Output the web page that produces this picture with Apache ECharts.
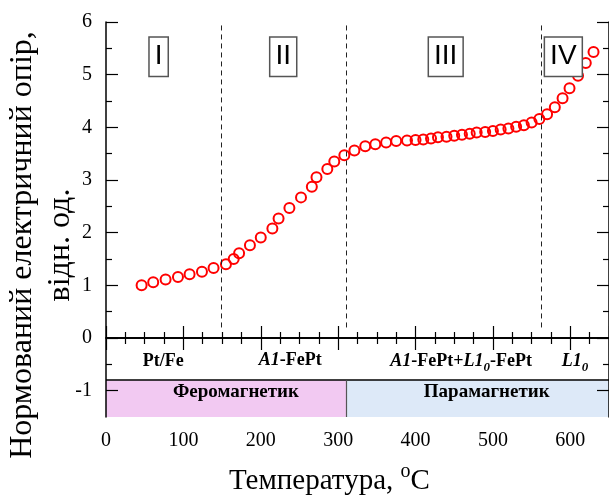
<!DOCTYPE html>
<html>
<head>
<meta charset="utf-8">
<script src="https://cdn.jsdelivr.net/npm/echarts@6/dist/echarts.min.js"></script>
<style>
  html, body { margin: 0; padding: 0; background: #fff; }
  #chart { width: 609px; height: 495px; }
</style>
</head>
<body>
<div id="chart"></div>
<script>
// measured curve, T in °C vs normalised resistance
const temperature = [46, 61, 77, 93, 108, 124, 139, 155, 165, 172, 186, 200, 215, 223, 237,
  252, 266, 272, 286, 295, 308, 321, 335, 348, 362, 375, 389, 400, 410, 420, 429, 440, 450,
  460, 470, 479, 490, 500, 510, 520, 530, 540, 550, 560, 570, 580, 590, 599, 610, 620, 630]
const resistance = [1.00, 1.06, 1.11, 1.16, 1.21, 1.26, 1.33, 1.40, 1.50, 1.61, 1.76, 1.91,
  2.08, 2.27, 2.47, 2.67, 2.87, 3.05, 3.21, 3.35, 3.47, 3.56, 3.64, 3.68, 3.71, 3.74, 3.75,
  3.76, 3.77, 3.79, 3.81, 3.82, 3.84, 3.86, 3.88, 3.90, 3.91, 3.93, 3.96, 3.98, 4.01, 4.04,
  4.09, 4.16, 4.25, 4.38, 4.55, 4.74, 4.98, 5.22, 5.43]

// stage borders and labels
const stageBounds = [149, 311, 562]
const stageNames = ['I', 'II', 'III', 'IV']
const stageLabelX = [68, 229, 439, 591]
const phaseNames = ['Pt/Fe', '{i|A1}{b|-FePt}', '{i|A1}{b|-FePt+}{i|L1}{sub|0}{b|-FePt}', '{i|L1}{sub|0}']
const phaseLabelX = [74, 238, 459, 606]
const magnetNames = ['Феромагнетик', 'Парамагнетик']
const magnetLabelX = [168, 492]
const curieT = 311

const yMajor = [-1, 0, 1, 2, 3, 4, 5, 6]
const yMinor = [-0.5, 0.5, 1.5, 2.5, 3.5, 4.5, 5.5]

const serif = '"Liberation Serif", "DejaVu Serif", serif'
const sans = '"Liberation Sans", Arial, sans-serif'
const X_MAX = 650

const chart = echarts.init(document.getElementById('chart'))

const xBase = {
  type: 'value',
  min: 0,
  max: X_MAX,
  interval: 100,
  z: 5,
  splitLine: { show: false },
  axisLine: { show: true, lineStyle: { color: '#000', width: 1.5 } },
  axisTick: { inside: true, length: 12, lineStyle: { color: '#000', width: 1.2 } },
  minorTick: { show: true, splitNumber: 4, length: 6, lineStyle: { color: '#000', width: 1.2 } }
}

function yAxisOf(position, ticks, len, withLabels, lineOn) {
  return {
    type: 'value',
    min: -1.5,
    max: 6,
    position: position,
    z: 5,
    splitLine: { show: false },
    axisLine: { show: lineOn, lineStyle: { color: '#000', width: 1.5 } },
    axisTick: { inside: true, length: len, customValues: ticks, lineStyle: { color: '#000', width: 1.2 } },
    axisLabel: withLabels
      ? { customValues: ticks, fontFamily: serif, fontSize: 20, color: '#000', margin: 14 }
      : { show: false }
  }
}

const phaseRich = {
  b: { fontFamily: serif, fontSize: 18, fontWeight: 'bold', color: '#000', verticalAlign: 'top', lineHeight: 20 },
  i: { fontFamily: serif, fontSize: 18, fontWeight: 'bold', fontStyle: 'italic', color: '#000', verticalAlign: 'top', lineHeight: 20 },
  sub: { fontFamily: serif, fontSize: 13, fontWeight: 'bold', fontStyle: 'italic', color: '#000', verticalAlign: 'bottom', lineHeight: 22 }
}

chart.setOption({
  backgroundColor: '#fff',
  animation: false,
  grid: { left: 106, right: -5, top: 22, bottom: 78 },
  xAxis: [
    Object.assign({}, xBase, {
      position: 'bottom',
      axisLabel: { fontFamily: serif, fontSize: 20, color: '#000', margin: 14, showMaxLabel: false }
    }),
    Object.assign({}, xBase, { position: 'top', axisLabel: { show: false } })
  ],
  yAxis: [
    yAxisOf('left', yMajor, 12, true, true),
    yAxisOf('left', yMinor, 6, false, false),
    yAxisOf('right', yMajor, 12, false, true),
    yAxisOf('right', yMinor, 6, false, false)
  ],
  graphic: [
    {
      type: 'text',
      left: 229,
      top: 462,
      style: {
        text: '{n|Температура, }{sup|o}{n|C}',
        rich: {
          n: { fontFamily: serif, fontSize: 29, color: '#000', verticalAlign: 'bottom', lineHeight: 34 },
          sup: { fontFamily: serif, fontSize: 20, color: '#000', verticalAlign: 'top', lineHeight: 34, padding: [0, 0, 12, 0] }
        }
      }
    },
    {
      type: 'text',
      x: 42,
      y: 245,
      rotation: Math.PI / 2,
      style: {
        text: 'Нормований електричний опір,\nвідн. од.',
        fontFamily: serif,
        fontSize: 32,
        lineHeight: 38,
        fill: '#000',
        align: 'center',
        verticalAlign: 'middle'
      }
    }
  ],
  series: [
    {
      name: 'bands',
      type: 'scatter',
      data: [],
      z: 1,
      silent: true,
      markArea: {
        silent: true,
        data: [
          [{ coord: [0, -1.5], itemStyle: { color: '#f2c9f2' } }, { coord: [curieT, -0.8] }],
          [{ coord: [curieT, -1.5], itemStyle: { color: '#dde9f8' } }, { coord: [X_MAX, -0.8] }]
        ]
      }
    },
    {
      name: 'guides',
      type: 'scatter',
      data: [],
      z: 2,
      silent: true,
      markLine: {
        silent: true,
        symbol: 'none',
        label: { show: false },
        lineStyle: { color: '#000', width: 1.5, type: 'solid' },
        data: [
          [{ coord: [0, 0] }, { coord: [X_MAX, 0] }],
          [{ coord: [0, -0.8] }, { coord: [X_MAX, -0.8] }],
          [{ coord: [curieT, -1.5], lineStyle: { color: '#555', width: 1.2 } }, { coord: [curieT, -0.8] }]
        ].concat(stageBounds.map(t => [
          { coord: [t, 0.2], lineStyle: { color: '#222', width: 1, type: [5, 4] } },
          { coord: [t, 6] }
        ]))
      }
    },
    {
      name: 'R',
      type: 'scatter',
      z: 3,
      symbol: 'circle',
      symbolSize: 10,
      itemStyle: { color: 'rgba(255,255,255,0)', borderColor: '#ff0000', borderWidth: 2, opacity: 1 },
      data: temperature.map((t, i) => [t, resistance[i]])
    },
    {
      name: 'labels',
      type: 'scatter',
      data: [],
      z: 4,
      silent: true,
      markPoint: {
        silent: true,
        symbol: 'rect',
        symbolSize: 0,
        data: stageNames.map((n, i) => ({
          name: n,
          coord: [stageLabelX[i], 5.34],
          label: {
            show: true,
            position: 'inside',
            formatter: '{b}',
            fontFamily: sans,
            fontSize: 28,
            lineHeight: 28,
            color: '#000',
            backgroundColor: '#fff',
            borderColor: '#555',
            borderWidth: 1.5,
            padding: [5, 5, 5, 5]
          }
        })).concat(phaseNames.map((n, i) => ({
          name: n,
          coord: [phaseLabelX[i], i >= 2 ? -0.48 : -0.45],
          label: {
            show: true,
            position: 'inside',
            formatter: '{b}',
            fontFamily: serif,
            fontSize: 18,
            fontWeight: 'bold',
            color: '#000',
            rich: phaseRich
          }
        }))).concat(magnetNames.map((n, i) => ({
          name: n,
          coord: [magnetLabelX[i], -1.02],
          label: {
            show: true,
            position: 'inside',
            formatter: '{b}',
            fontFamily: serif,
            fontSize: 19,
            fontWeight: 'bold',
            color: '#000'
          }
        })))
      }
    }
  ]
})
</script>
</body>
</html>
